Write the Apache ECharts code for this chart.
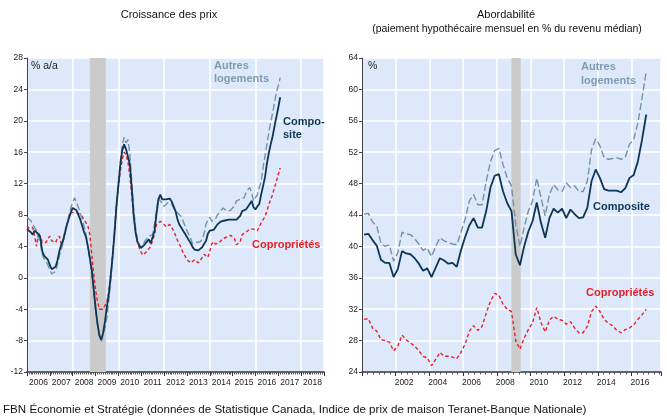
<!DOCTYPE html>
<html><head><meta charset="utf-8">
<script src="https://cdn.jsdelivr.net/npm/echarts@6/dist/echarts.min.js"></script>
<style>html,body{margin:0;padding:0;background:#fff}#c{width:667px;height:417px}</style>
</head><body><div id="c"></div>
<script>
// ---- Left chart: monthly y/y price growth, Jan 2006 .. Feb 2017
const growthStart = 2006;
const compositeGrowth = [
 6.2,6.0,5.8,5.5,6.0,6.2,5.6,5.1,3.4,2.8,2.6,2.3,
 1.6,1.1,1.0,1.4,2.2,3.4,4.2,4.8,5.8,6.8,7.6,8.3,
 8.9,9.1,8.6,8.0,7.4,6.6,5.8,5.2,4.0,2.5,1.0,-1.3,
 -3.8,-5.8,-7.3,-7.9,-7.0,-5.5,-3.6,-2.0,0.3,2.8,5.8,9.2,
 11.8,14.4,16.2,17.0,16.4,16.2,14.5,11.5,8.0,5.8,4.6,4.1,
 3.8,3.6,4.3,4.6,4.9,4.4,4.6,6.0,8.1,10.0,10.6,10.0,
 9.9,10.0,10.0,10.1,9.7,9.1,8.5,7.5,6.8,6.4,6.0,5.6,
 5.2,4.8,4.4,3.9,3.6,3.4,3.5,3.7,3.9,4.3,4.7,5.6,
 6.0,5.9,6.1,6.3,6.8,7.0,7.2,7.4,7.3,7.2,7.4,7.5,
 7.4,7.5,7.4,7.6,7.9,8.5,8.6,8.7,8.9,9.4,9.8,9.0,
 8.7,9.1,9.4,10.6,10.7,12.8,14.5,15.9,17.0,18.0,19.3,20.5,
 21.7,23.0];
const autresGrowth = [
 7.7,7.5,7.3,6.8,6.6,6.0,5.0,4.5,3.0,2.4,2.1,1.6,
 1.0,0.5,0.3,0.8,1.7,2.8,3.6,4.5,5.8,6.8,7.9,8.9,
 9.6,10.2,9.6,9.0,8.2,7.5,6.5,5.5,3.8,2.4,0.5,-2.0,
 -4.0,-6.0,-7.4,-8.1,-7.3,-6.3,-5.0,-2.8,-0.3,2.8,6.3,9.6,
 12.0,14.8,16.8,17.9,17.2,17.6,15.8,12.3,9.0,6.5,4.8,4.2,
 3.8,4.2,4.7,5.0,5.3,5.3,5.5,6.8,8.5,10.2,9.8,9.5,
 9.1,9.3,9.6,9.8,9.4,8.9,8.6,8.3,8.1,7.8,7.2,6.6,
 6.0,5.5,5.0,4.3,4.1,4.5,4.7,4.6,4.9,5.6,6.8,7.4,
 7.7,7.2,7.0,7.5,8.0,8.3,8.6,8.9,8.7,8.5,8.3,8.6,
 8.5,9.2,9.8,9.8,10.0,10.2,10.2,10.8,11.2,11.5,10.8,9.8,
 10.0,10.6,11.5,12.3,14.0,15.5,17.0,18.5,19.8,21.0,22.3,23.6,
 24.5,25.5];
const coproGrowth = [
 6.6,6.3,6.2,6.4,5.3,4.0,5.8,5.3,4.5,4.4,4.5,5.0,
 5.3,4.7,4.6,4.5,5.0,5.3,4.3,4.6,6.0,6.8,7.7,8.3,
 8.5,8.3,8.2,8.2,8.2,7.8,7.4,7.2,6.6,5.5,3.0,0.5,
 -1.5,-3.0,-4.0,-4.1,-4.0,-3.8,-3.0,-1.8,0.5,3.0,6.0,9.0,
 11.5,13.5,15.0,16.0,15.7,14.8,13.0,10.6,8.0,6.0,4.6,3.8,
 3.2,2.9,2.8,3.4,3.7,4.0,4.8,5.5,6.8,7.0,7.2,7.0,
 6.8,6.5,6.4,6.8,6.6,6.0,5.4,4.8,4.3,3.8,3.2,2.8,
 2.3,2.1,1.9,2.0,2.3,2.1,1.9,2.2,2.6,3.0,2.8,2.6,
 3.4,4.3,4.6,4.3,4.3,4.5,4.7,5.0,5.1,5.2,5.3,5.4,
 5.5,5.0,4.2,4.0,4.6,5.5,5.7,5.8,6.0,6.2,6.4,6.2,
 6.0,6.0,6.5,7.0,7.2,7.8,8.5,9.3,10.0,10.6,11.5,12.3,
 13.2,14.0];

// ---- Right chart: quarterly affordability, 2000Q1 .. 2016Q4
const affordStart = 2000;
const compositeAfford = [
 41.5,41.6,40.8,40.1, 38.3,37.9,37.9,36.1, 37.1,39.4,39.1,39.0, 38.5,37.8,36.9,37.2,
 36.1,37.3,38.5,38.2, 37.8,37.9,37.4,39.5, 41.2,42.7,43.6,42.4, 42.4,44.5,47.5,49.0,
 49.2,47.0,45.5,44.5, 39.0,37.6,40.0,41.9, 43.2,45.6,43.0,41.1, 43.6,44.8,44.3,44.8,
 43.6,44.7,44.1,43.6, 43.7,44.9,48.3,49.8, 48.7,47.3,47.1,47.1, 47.1,46.9,47.4,48.7,
 49.1,50.8,53.6,56.8];
const autresAfford = [
 44.1,44.2,43.1,42.6, 40.4,40.0,40.2,38.1, 39.2,41.8,41.6,41.5, 41.0,40.3,39.5,39.8,
 38.7,40.0,41.1,40.7, 40.5,40.3,40.2,41.8, 43.5,45.8,46.6,45.3, 45.3,48.3,50.8,52.2,
 52.5,50.4,48.7,47.7, 42.8,40.0,42.4,44.5, 45.8,48.7,46.2,43.9, 46.6,47.9,47.2,47.0,
 48.1,47.5,47.7,47.0, 47.0,48.3,52.3,53.7, 52.8,51.3,51.1,51.2, 51.3,51.1,51.3,53.0,
 53.6,55.7,58.9,62.3];
const coproAfford = [
 30.7,30.8,29.6,29.2, 28.1,28.0,27.8,26.7, 27.3,28.7,28.1,27.7, 27.3,26.7,26.0,25.8,
 24.8,25.6,26.5,26.0, 26.0,25.9,25.7,26.5, 27.6,29.2,29.9,29.3, 29.8,31.5,33.0,34.0,
 33.8,32.6,32.0,31.7, 28.0,26.9,28.3,29.4, 30.3,32.2,30.3,29.1, 30.6,31.1,30.7,30.6,
 30.1,30.4,29.6,29.0, 29.0,29.8,31.7,32.4, 31.7,30.7,30.2,29.9, 29.3,29.0,29.4,29.6,
 30.0,30.7,31.3,32.0];

const recessionLeft = [2008.75, 2009.45];
const recessionRight = [2008.87, 2009.42];

const growthTicks = {min: -12, max: 28, step: 4};
const affordTicks = {min: 24, max: 64, step: 4};

const titleLeft = 'Croissance des prix';
const titleRight = 'Abordabilité';
const subtitleRight = '(paiement hypothécaire mensuel en % du revenu médian)';
const source = 'FBN Économie et Stratégie (données de Statistique Canada, Indice de prix de maison Teranet-Banque Nationale)';

// ---- build
const monthly = arr => arr.map((v, i) => [growthStart + i / 12, v]);
const quarterly = arr => arr.map((v, i) => [affordStart + (i + 0.5) / 4, v]);

const C_COMP = '#0d3656', C_AUT = '#7592a6', C_COP = '#e8202a';
const BG = '#dde9fa';
const FONT = 'Liberation Sans, Arial, sans-serif';
const NARROW = "'Liberation Sans Narrow', 'Liberation Sans', Arial, sans-serif";

function yAxis(gi, t) {
  return {type: 'value', gridIndex: gi, min: t.min, max: t.max, interval: t.step,
    axisLine: {show: true, onZero: false, lineStyle: {color: '#444', width: 1}},
    axisTick: {show: true, length: 3, lineStyle: {color: '#444'}},
    axisLabel: {color: '#222', fontSize: 8.5, fontFamily: NARROW, margin: 4},
    splitLine: {show: true, lineStyle: {color: '#fff', width: 1.6}}};
}
const hidden = {axisLine: {show: false, onZero: false}, axisTick: {show: false}, axisLabel: {show: false}};

const option = {
  animation: false,
  textStyle: {fontFamily: FONT},
  grid: [
    {left: 27, top: 58, width: 297, height: 314, show: true, backgroundColor: BG, borderWidth: 0},
    {left: 362, top: 58, width: 299, height: 314, show: true, backgroundColor: BG, borderWidth: 0}
  ],
  xAxis: [
    // left: ticks + axis line
    {type: 'value', gridIndex: 0, position: 'bottom', min: 2006, max: 2019, interval: 1,
      axisLine: {show: true, onZero: false, lineStyle: {color: '#333', width: 1.5}},
      axisTick: {show: true, length: 4, lineStyle: {color: '#333'}},
      minorTick: {show: true, splitNumber: 12, length: 2.5, lineStyle: {color: '#555'}},
      axisLabel: {show: false}, splitLine: {show: false}},
    // left: vertical grid lines every 2 years
    Object.assign({type: 'value', gridIndex: 0, position: 'bottom', min: 2006, max: 2019, interval: 2,
      splitLine: {show: true, lineStyle: {color: '#fff', width: 1.6}}}, hidden),
    // left: year labels centered in each year
    {type: 'value', gridIndex: 0, position: 'bottom', min: 2006, max: 2019, interval: 0.5,
      axisLine: {show: false, onZero: false}, axisTick: {show: false}, splitLine: {show: false},
      axisLabel: {color: '#222', fontSize: 8.5, fontFamily: NARROW, margin: 6, hideOverlap: false,
        showMinLabel: true, showMaxLabel: true,
        formatter: v => (Math.abs((v % 1) - 0.5) < 1e-6 ? String(Math.floor(v)) : '')}},
    // right: ticks + grid lines
    {type: 'value', gridIndex: 1, position: 'bottom', min: 2000, max: 2017.75, interval: 2,
      axisLine: {show: true, onZero: false, lineStyle: {color: '#333', width: 1.5}},
      axisTick: {show: true, length: 4, lineStyle: {color: '#333'}},
      minorTick: {show: true, splitNumber: 6, length: 2.5, lineStyle: {color: '#555'}},
      axisLabel: {show: false},
      splitLine: {show: true, lineStyle: {color: '#fff', width: 1.6}}},
    // right: labels
    {type: 'value', gridIndex: 1, position: 'bottom', min: 2000, max: 2017.75, interval: 0.5,
      axisLine: {show: false, onZero: false}, axisTick: {show: false}, splitLine: {show: false},
      axisLabel: {color: '#222', fontSize: 8.5, fontFamily: NARROW, margin: 6, hideOverlap: false,
        formatter: v => { const r = v % 2; return (Math.abs(r - 0.5) < 1e-6 && v > 2001) ? String(Math.floor(v)) : ''; }}}
  ],
  yAxis: [yAxis(0, growthTicks), yAxis(1, affordTicks)],
  series: [
    {type: 'line', name: 'Copropriétés', xAxisIndex: 0, yAxisIndex: 0, data: monthly(coproGrowth),
      symbol: 'none', lineStyle: {color: C_COP, width: 1.4, type: [3.5, 2.5]}, z: 3,
      markArea: {silent: true, itemStyle: {color: '#cbcbcb'},
        data: [[{xAxis: recessionLeft[0]}, {xAxis: recessionLeft[1]}]]}},
    {type: 'line', name: 'Autres logements', xAxisIndex: 0, yAxisIndex: 0, data: monthly(autresGrowth),
      symbol: 'none', lineStyle: {color: C_AUT, width: 1.4, type: [7, 3]}, z: 4},
    {type: 'line', name: 'Composite', xAxisIndex: 0, yAxisIndex: 0, data: monthly(compositeGrowth),
      symbol: 'none', lineStyle: {color: C_COMP, width: 1.8}, z: 5},
    {type: 'line', name: 'Copropriétés', xAxisIndex: 3, yAxisIndex: 1, data: quarterly(coproAfford),
      symbol: 'none', lineStyle: {color: C_COP, width: 1.4, type: [3.5, 2.5]}, z: 3,
      markArea: {silent: true, itemStyle: {color: '#cbcbcb'},
        data: [[{xAxis: recessionRight[0]}, {xAxis: recessionRight[1]}]]}},
    {type: 'line', name: 'Autres logements', xAxisIndex: 3, yAxisIndex: 1, data: quarterly(autresAfford),
      symbol: 'none', lineStyle: {color: C_AUT, width: 1.4, type: [7, 3]}, z: 4},
    {type: 'line', name: 'Composite', xAxisIndex: 3, yAxisIndex: 1, data: quarterly(compositeAfford),
      symbol: 'none', lineStyle: {color: C_COMP, width: 1.8}, z: 5}
  ],
  graphic: [
    {type: 'text', x: 169, y: 15, style: {text: titleLeft, fill: '#111', font: '11px ' + FONT, align: 'center', verticalAlign: 'middle'}},
    {type: 'text', x: 506, y: 15, style: {text: titleRight, fill: '#111', font: '11px ' + FONT, align: 'center', verticalAlign: 'middle'}},
    {type: 'text', x: 507, y: 29, style: {text: subtitleRight, fill: '#111', font: '10.5px ' + FONT, align: 'center', verticalAlign: 'middle'}},
    {type: 'text', x: 31, y: 66, z: 10, style: {text: '% a/a', fill: '#222', font: '10.5px ' + FONT, verticalAlign: 'middle'}},
    {type: 'text', x: 368, y: 66, z: 10, style: {text: '%', fill: '#222', font: '10.5px ' + FONT, verticalAlign: 'middle'}},
    {type: 'text', x: 214, y: 72, z: 10, style: {text: 'Autres\nlogements', fill: '#7f9bb0', font: 'bold 11px ' + FONT, verticalAlign: 'middle', lineHeight: 13}},
    {type: 'text', x: 283, y: 128, z: 10, style: {text: 'Compo-\nsite', fill: C_COMP, font: 'bold 11px ' + FONT, verticalAlign: 'middle', lineHeight: 13}},
    {type: 'text', x: 252, y: 245, z: 10, style: {text: 'Copropriétés', fill: C_COP, font: 'bold 11px ' + FONT, verticalAlign: 'middle'}},
    {type: 'text', x: 581, y: 74, z: 10, style: {text: 'Autres\nlogements', fill: '#7f9bb0', font: 'bold 11px ' + FONT, verticalAlign: 'middle', lineHeight: 14}},
    {type: 'text', x: 593, y: 207, z: 10, style: {text: 'Composite', fill: C_COMP, font: 'bold 11px ' + FONT, verticalAlign: 'middle'}},
    {type: 'text', x: 586, y: 293, z: 10, style: {text: 'Copropriétés', fill: C_COP, font: 'bold 11px ' + FONT, verticalAlign: 'middle'}},
    {type: 'text', x: 3, y: 410, style: {text: source, fill: '#111', font: '11.6px ' + FONT, verticalAlign: 'middle'}}
  ]
};
const chart = echarts.init(document.getElementById('c'), null, {renderer: 'canvas'});
chart.setOption(option);
</script>
</body></html>
